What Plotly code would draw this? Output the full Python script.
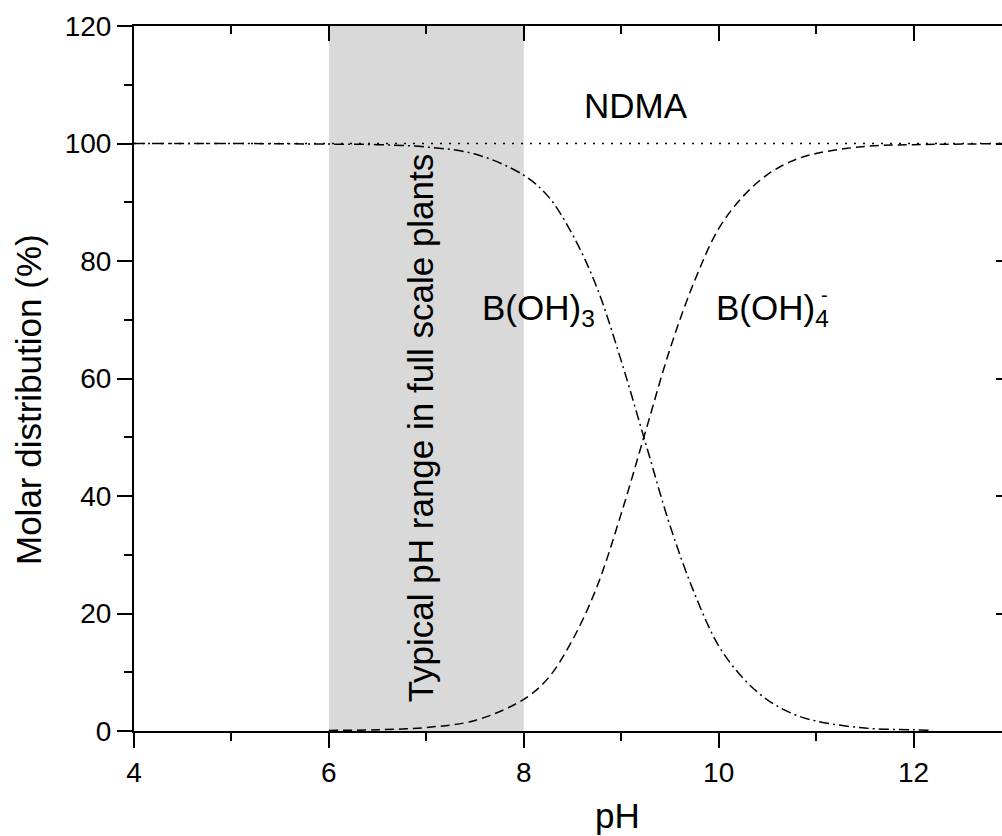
import plotly.graph_objects as go

# ---- data ----
PH_ACID = [4, 5, 6, 6.5, 7, 7.5, 8, 8.25, 8.5, 8.75, 9, 9.25, 9.5, 9.75, 10,
           10.25, 10.5, 10.75, 11, 11.5, 12, 12.2]
BOH3 = [100, 100, 99.9, 99.8, 99.4, 98.2, 94.6, 91.0, 84.5, 75.5, 63.0, 49.0,
        35.0, 23.5, 14.5, 9.0, 5.3, 3.0, 1.7, 0.5, 0.2, 0.1]

PH_BASE = [6, 6.5, 7, 7.5, 8, 8.25, 8.5, 8.75, 9, 9.25, 9.5, 9.75, 10, 10.25,
           10.5, 10.75, 11, 11.5, 12, 12.5, 13]
BOH4 = [0.1, 0.2, 0.6, 1.8, 5.4, 9.0, 15.5, 24.5, 37.0, 51.0, 65.0, 76.5, 85.5,
        91.0, 94.7, 97.0, 98.3, 99.5, 99.8, 99.9, 100]

PH_NDMA = [4, 13]
NDMA = [100, 100]

SHADE_PH = [6, 8]

X_TICKS = [4, 6, 8, 10, 12]
Y_TICKS = [0, 20, 40, 60, 80, 100, 120]
X_RANGE = [4, 13]
Y_RANGE = [0, 120]

FONT = "Liberation Sans, Arial, Helvetica, sans-serif"
W, H = 1011, 836
ML, MR, MT, MB = 134, 0, 26, 105


def px_x(p):
    return (p - ML) / (W - ML - MR)


def px_y(p):
    return (H - MB - p) / (H - MB - MT)


fig = go.Figure()

fig.add_shape(type="rect", xref="x", yref="y", x0=SHADE_PH[0], x1=SHADE_PH[1],
              y0=Y_RANGE[0], y1=Y_RANGE[1], fillcolor="#d9d9d9",
              line=dict(width=0), layer="below")

fig.add_trace(go.Scatter(x=PH_ACID, y=BOH3, mode="lines", line_shape="spline",
                         line=dict(color="black", width=1.5, dash="10px,4px,2px,4px"),
                         showlegend=False))
fig.add_trace(go.Scatter(x=PH_BASE, y=BOH4, mode="lines", line_shape="spline",
                         line=dict(color="black", width=1.5, dash="9px,5px"),
                         showlegend=False))
fig.add_trace(go.Scatter(x=PH_NDMA, y=NDMA, mode="lines", xaxis="x2", yaxis="y2",
                         line=dict(color="black", width=1.5, dash="2px,7px"),
                         showlegend=False))

axis_common = dict(showgrid=False, zeroline=False, showline=True, linewidth=2,
                   linecolor="black", tickcolor="black", tickwidth=2,
                   tickfont=dict(family=FONT, size=28, color="black"))

fig.update_layout(
    width=W, height=H,
    margin=dict(l=ML, r=MR, t=MT, b=MB, pad=0),
    plot_bgcolor="white", paper_bgcolor="white",
    font=dict(family=FONT, color="black"),
    xaxis=dict(range=X_RANGE, tickvals=X_TICKS, ticks="outside", ticklen=15,
               minor=dict(dtick=1, tick0=4, ticks="outside", ticklen=8,
                          tickwidth=2, tickcolor="black"),
               **axis_common),
    yaxis=dict(range=Y_RANGE, tickvals=Y_TICKS, ticks="outside", ticklen=15,
               minor=dict(dtick=10, tick0=0, ticks="outside", ticklen=8,
                          tickwidth=2, tickcolor="black"),
               **axis_common),
    xaxis2=dict(range=X_RANGE, overlaying="x", side="top", tickvals=X_TICKS,
                ticks="inside", ticklen=15, showticklabels=False,
                minor=dict(dtick=1, tick0=4, ticks="inside", ticklen=8,
                           tickwidth=2, tickcolor="black"),
                **axis_common),
    yaxis2=dict(range=Y_RANGE, overlaying="y", side="right", tickvals=Y_TICKS,
                ticks="inside", ticklen=15, showticklabels=False,
                minor=dict(dtick=10, tick0=0, ticks="inside", ticklen=8,
                           tickwidth=2, tickcolor="black"),
                **axis_common),
)

ann_font = dict(family=FONT, size=35, color="black")
fig.add_annotation(text="NDMA", x=9.15, y=106.5, xref="x", yref="y",
                   showarrow=False, font=ann_font)
fig.add_annotation(text="B(OH)<sub>3</sub>", x=7.55, y=71.7, xref="x", yref="y",
                   xanchor="left", showarrow=False, font=ann_font)
fig.add_annotation(text="B(OH)<sub>4</sub>", x=9.95, y=71.7, xref="x", yref="y",
                   xanchor="left", showarrow=False, font=ann_font)
fig.add_annotation(text="-", x=11.03, y=74.2, xref="x", yref="y",
                   xanchor="left", showarrow=False,
                   font=dict(family=FONT, size=20, color="black"))
fig.add_annotation(text="Typical pH range in full scale plants", x=6.94, y=51.6,
                   xref="x", yref="y", textangle=-90, showarrow=False,
                   font=ann_font)

fig.add_annotation(text="pH", x=px_x(617), y=px_y(815), xref="paper", yref="paper",
                   showarrow=False, font=ann_font, yanchor="middle")
fig.add_annotation(text="Molar distribution (%)", x=px_x(28), y=px_y(400),
                   xref="paper", yref="paper", textangle=-90, showarrow=False,
                   font=ann_font, xanchor="center", yanchor="middle")

fig.write_html(
    "out.html",
    config={"displayModeBar": False},
    post_script=("document.body.style.margin='0px';"
                 "document.documentElement.style.overflow='hidden';"
                 "document.body.style.overflow='hidden';"),
)
